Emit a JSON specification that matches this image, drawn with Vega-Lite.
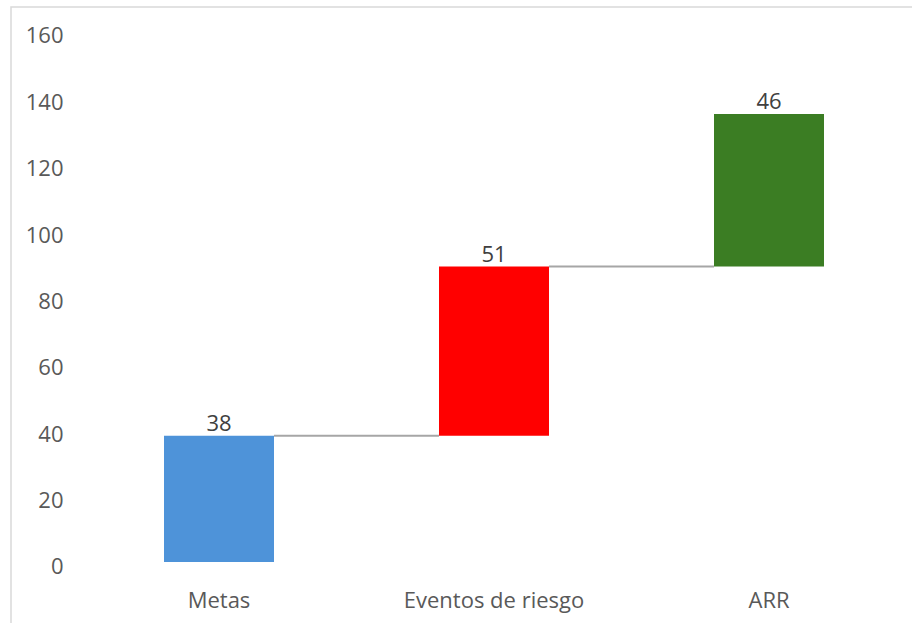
{
  "$schema": "https://vega.github.io/schema/vega-lite/v6.json",
  "width": 905,
  "height": 623,
  "padding": {"left": 11, "top": 7, "right": 0, "bottom": 0},
  "background": "white",
  "config": {
    "font": "Open Sans",
    "view": {"stroke": "#d9d9d9", "strokeWidth": 1.5}
  },
  "data": {
    "values": [
      {"cat": "Metas", "start": 0, "end": 38, "delta": 38, "next": "Eventos de riesgo", "kind": "Metas"},
      {"cat": "Eventos de riesgo", "start": 38, "end": 89, "delta": 51, "next": "ARR", "kind": "Eventos de riesgo"},
      {"cat": "ARR", "start": 89, "end": 135, "delta": 46, "next": null, "kind": "ARR"}
    ]
  },
  "encoding": {
    "x": {
      "field": "cat",
      "type": "nominal",
      "scale": {
        "domain": ["Metas", "Eventos de riesgo", "ARR"],
        "paddingInner": 0.6,
        "paddingOuter": 0.44545,
        "align": 0.6245
      },
      "axis": {
        "title": null,
        "labelAngle": 0,
        "domain": false,
        "ticks": false,
        "tickSize": 0,
        "labelPadding": 0,
        "offset": -23,
        "labelLimit": 0,
        "labelBaseline": "alphabetic",
        "labelFontSize": 22,
        "labelColor": "#595959",
        "labelFont": "Open Sans"
      }
    }
  },
  "layer": [
    {
      "mark": {"type": "bar"},
      "encoding": {
        "y": {
          "field": "start",
          "type": "quantitative",
          "scale": {"domain": [-20.5, 167.2], "nice": false, "zero": false},
          "axis": {
            "title": null,
            "values": [0, 20, 40, 60, 80, 100, 120, 140, 160],
            "grid": false,
            "domain": false,
            "ticks": false,
            "tickSize": 0,
            "labelPadding": 0,
            "offset": -52,
            "labelOffset": 5,
            "labelFontSize": 22,
            "labelColor": "#595959",
            "labelFont": "Open Sans"
          }
        },
        "y2": {"field": "end"},
        "color": {
          "field": "kind",
          "type": "nominal",
          "scale": {
            "domain": ["Metas", "Eventos de riesgo", "ARR"],
            "range": ["#4e93d9", "#ff0000", "#3b7d23"]
          },
          "legend": null
        }
      }
    },
    {
      "transform": [{"filter": "datum.next != null"}],
      "mark": {"type": "rule", "color": "#a6a6a6", "strokeWidth": 2},
      "encoding": {
        "x": {"field": "cat", "type": "nominal", "bandPosition": 1},
        "x2": {"field": "next", "bandPosition": 0},
        "y": {"field": "end", "type": "quantitative"}
      }
    },
    {
      "mark": {"type": "text", "baseline": "alphabetic", "dy": -5, "fontSize": 22, "color": "#404040", "font": "Open Sans"},
      "encoding": {
        "y": {"field": "end", "type": "quantitative"},
        "text": {"field": "delta", "type": "quantitative"}
      }
    }
  ]
}
